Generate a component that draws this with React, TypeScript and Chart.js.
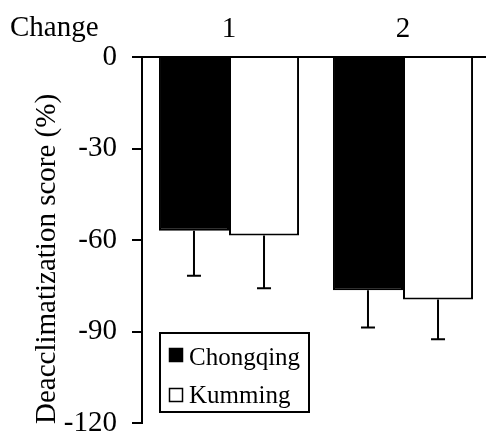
import React, { useEffect, useRef } from "react";
import { Chart, registerables } from "chart.js";

Chart.register(...registerables);

const categories = ["1", "2"];
const chongqing = [-57, -76.5];
const kumming = [-58.5, -79.5];
const chongqingErr = [14.7, 12.2];
const kummingErr = [17.3, 13];
const yTicks = [0, -30, -60, -90, -120];

const SERIF = "'Liberation Serif', 'Times New Roman', serif";

const errorBarPlugin = {
  id: "errorBars",
  afterDatasetsDraw(chart: any) {
    const ctx = chart.ctx;
    const y = chart.scales.y;
    chart.data.datasets.forEach((ds: any, i: number) => {
      const meta = chart.getDatasetMeta(i);
      meta.data.forEach((el: any, j: number) => {
        const v = ds.data[j];
        const e = ds.errors[j];
        const y0 = y.getPixelForValue(v);
        const y1 = y.getPixelForValue(v - e);
        ctx.save();
        ctx.strokeStyle = "#000";
        ctx.lineWidth = 2;
        ctx.beginPath();
        ctx.moveTo(el.x, y0);
        ctx.lineTo(el.x, y1);
        ctx.moveTo(el.x - 7, y1);
        ctx.lineTo(el.x + 7, y1);
        ctx.stroke();
        ctx.restore();
      });
    });
  },
};

const decorPlugin = {
  id: "decor",
  afterDraw(chart: any) {
    const ctx = chart.ctx;
    ctx.save();
    ctx.fillStyle = "#000";
    ctx.font = `29px ${SERIF}`;
    ctx.textAlign = "left";
    ctx.textBaseline = "alphabetic";
    ctx.fillText("Change", 10, 36);

    ctx.save();
    ctx.translate(55, 259);
    ctx.rotate(-Math.PI / 2);
    ctx.textAlign = "center";
    ctx.fillText("Deacclimatization score (%)", 0, 0);
    ctx.restore();

    // legend
    ctx.strokeStyle = "#000";
    ctx.lineWidth = 2;
    ctx.fillStyle = "#fff";
    ctx.fillRect(160, 333, 149, 79);
    ctx.strokeRect(160, 333, 149, 79);
    const ds = chart.data.datasets;
    const rows = [
      { y: 348, base: 365 },
      { y: 388, base: 403 },
    ];
    ds.forEach((d: any, i: number) => {
      const r = rows[i];
      ctx.fillStyle = d.backgroundColor;
      ctx.fillRect(169, r.y, 14, 14);
      ctx.lineWidth = 1.5;
      ctx.strokeStyle = "#000";
      ctx.strokeRect(169.5, r.y + 0.5, 13, 13);
      ctx.fillStyle = "#000";
      ctx.font = `25px ${SERIF}`;
      ctx.textAlign = "left";
      ctx.fillText(d.label, 189, r.base);
    });
    ctx.restore();
  },
};

export default function App() {
  const ref = useRef<HTMLCanvasElement>(null);
  useEffect(() => {
    if (!ref.current) return;
    const chart = new Chart(ref.current, {
      type: "bar",
      data: {
        labels: categories,
        datasets: [
          {
            label: "Chongqing",
            data: chongqing,
            errors: chongqingErr,
            backgroundColor: "#000",
            borderColor: "#000",
            borderWidth: 2,
          } as any,
          {
            label: "Kumming",
            data: kumming,
            errors: kummingErr,
            backgroundColor: "#fff",
            borderColor: "#000",
            borderWidth: 2,
          } as any,
        ],
      },
      options: {
        animation: false,
        responsive: false,
        maintainAspectRatio: false,
        layout: { padding: { left: 0, right: 4, top: 0, bottom: 10 } },
        datasets: { bar: { categoryPercentage: 0.805, barPercentage: 1 } },
        plugins: {
          legend: { display: false },
          tooltip: { enabled: false },
          title: { display: false },
        },
        scales: {
          x: {
            position: "top",
            afterFit: (s: any) => {
              s.height = 57;
              s.paddingLeft = 0;
              s.paddingRight = 0;
            },
            grid: {
              display: true,
              drawOnChartArea: false,
              drawTicks: false,
              color: "rgba(0,0,0,0)",
            },
            border: { display: true, color: "#000", width: 2 },
            ticks: {
              color: "#000",
              font: { family: SERIF, size: 29 },
              padding: 10,
            },
          },
          y: {
            min: -120,
            max: 0,
            afterFit: (s: any) => {
              s.width = 142;
              s.paddingTop = 0;
              s.paddingBottom = 0;
            },
            afterBuildTicks: (s: any) => {
              s.ticks = yTicks.map((v) => ({ value: v }));
            },
            grid: {
              display: true,
              drawOnChartArea: false,
              drawTicks: true,
              tickLength: 10,
              color: "#000",
              lineWidth: 2,
            },
            border: { display: true, color: "#000", width: 2 },
            ticks: {
              color: "#000",
              font: { family: SERIF, size: 29 },
              padding: 15,
            },
          },
        },
      },
      plugins: [errorBarPlugin, decorPlugin],
    });
    return () => chart.destroy();
  }, []);
  return (
    <div
      style={{
        position: "fixed",
        left: 0,
        top: 0,
        width: 486,
        height: 433,
        overflow: "hidden",
        background: "#fff",
      }}
    >
      <canvas ref={ref} width={494} height={433} style={{ display: "block" }} />
    </div>
  );
}
